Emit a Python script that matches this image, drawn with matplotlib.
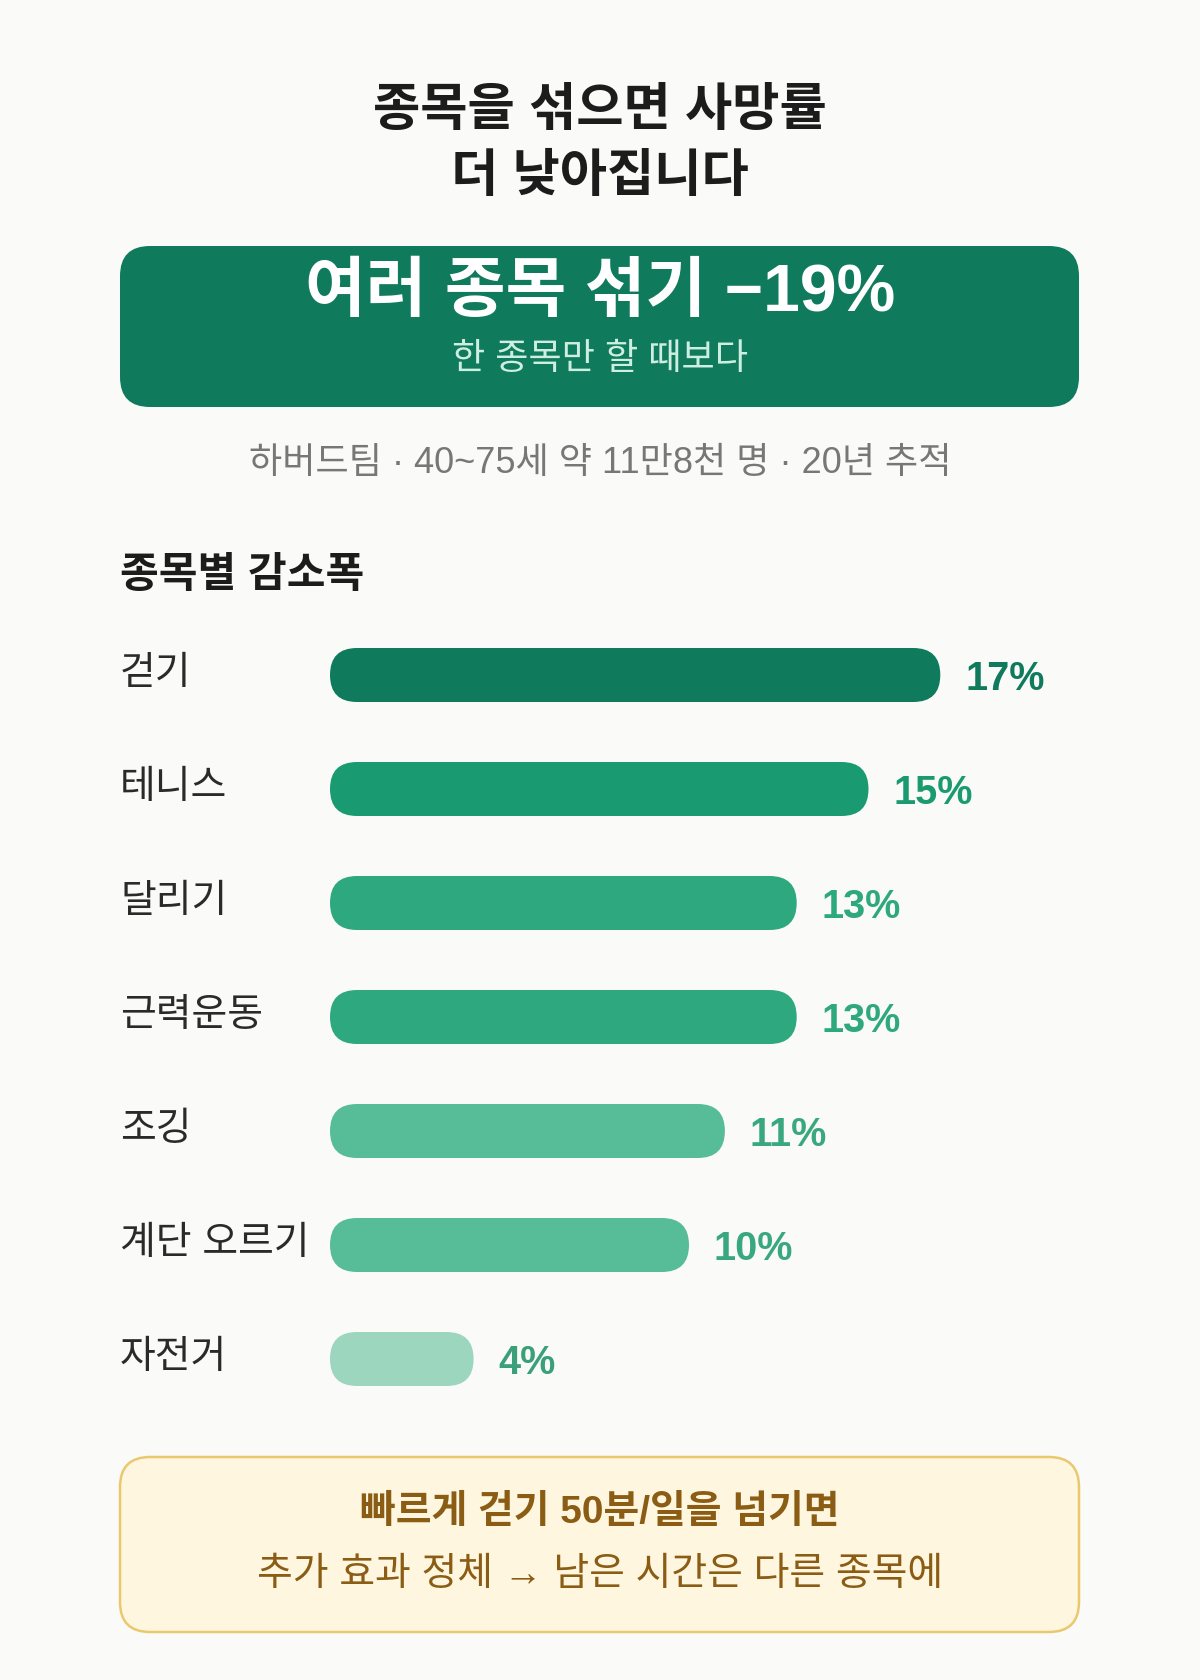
import matplotlib
matplotlib.use('Agg')
import matplotlib.pyplot as plt
from matplotlib.patches import FancyBboxPatch
from matplotlib.transforms import blended_transform_factory

# Data
sports = ['걷기', '테니스', '달리기', '근력운동', '조깅', '계단 오르기', '자전거']
reduction = [17, 15, 13, 13, 11, 10, 4]
bar_colors = ['#0f7b5c', '#1a9a70', '#2ea87f', '#2ea87f', '#57bd99', '#57bd99', '#9dd6bf']
label_colors = ['#0f7b5c', '#1a9a70', '#2ea87f', '#2ea87f', '#3aa87f', '#3aa87f', '#3aa07a']

title_lines = ['종목을 섞으면 사망률', '더 낮아집니다']
headline = '여러 종목 섞기 −19%'
headline_sub = '한 종목만 할 때보다'
source = '하버드팀 · 40~75세 약 11만8천 명 · 20년 추적'
section = '종목별 감소폭'
note_lines = ['빠르게 걷기 50분/일을 넘기면', '추가 효과 정체 → 남은 시간은 다른 종목에']

FONT = ['Liberation Sans', 'Noto Sans CJK KR', 'DejaVu Sans']
plt.rcParams['font.family'] = FONT
BG = '#fafaf8'

W, H = 1200, 1680
fig = plt.figure(figsize=(12, 16.8), dpi=100, facecolor=BG)

# Decoration layer, in pixel units
deco = fig.add_axes([0, 0, 1, 1])
deco.set_xlim(0, W)
deco.set_ylim(H, 0)
deco.axis('off')

deco.text(600, 112, title_lines[0], ha='center', va='center', fontsize=37,
          fontweight='bold', color='#1c1c1c')
deco.text(600, 177, title_lines[1], ha='center', va='center', fontsize=37,
          fontweight='bold', color='#1c1c1c')

deco.add_patch(FancyBboxPatch((120, 246), 959, 161,
                              boxstyle='round,pad=0,rounding_size=30',
                              fc='#0f7b5c', ec='none'))
deco.text(600, 294, headline, ha='center', va='center', fontsize=47.5,
          fontweight='bold', color='white')
deco.text(600, 360, headline_sub, ha='center', va='center', fontsize=26,
          color='#cdeee0')

deco.text(600, 464, source, ha='center', va='center', fontsize=26, color='#777777')

deco.text(120, 576, section, ha='left', va='center', fontsize=30.3,
          fontweight='bold', color='#1c1c1c')

deco.add_patch(FancyBboxPatch((120, 1457), 959, 175,
                              boxstyle='round,pad=0,rounding_size=30',
                              fc='#fff6e0', ec='#e9c86e', lw=1.8))
deco.text(600, 1513, note_lines[0], ha='center', va='center', fontsize=28,
          fontweight='bold', color='#8a5c14')
deco.text(600, 1575, note_lines[1], ha='center', va='center', fontsize=28,
          color='#8a5c14')

# Bar chart: 1% = ~35.9 px, rows 114 px apart
px_per_pct = 35.9
xmax = 20
ax_left, ax_w = 330, xmax * px_per_pct
row_h = 114
ax_top = 675 - row_h / 2
ax_h = row_h * len(sports)
ax = fig.add_axes([ax_left / W, 1 - (ax_top + ax_h) / H, ax_w / W, ax_h / H])
ax.set_xlim(0, xmax)
ax.set_ylim(len(sports) - 0.5, -0.5)
ax.axis('off')
ax.patch.set_alpha(0)

bar_h = 54 / row_h
rx = (bar_h / 2) * row_h / px_per_pct  # half-height in x units
for i, (v, c) in enumerate(zip(reduction, bar_colors)):
    ax.add_patch(FancyBboxPatch((0, i - bar_h / 2), v, bar_h,
                                boxstyle=f'round,pad=0,rounding_size={rx}',
                                mutation_aspect=(bar_h / 2) / rx,
                                fc=c, ec='none'))
    ax.text(v + 25 / px_per_pct, i + 0.035, f'{v}%', ha='left', va='center',
            fontsize=28.5, fontweight='bold', color=label_colors[i])

lab_tr = blended_transform_factory(fig.transFigure, ax.transData)
for i, name in enumerate(sports):
    ax.text(120 / W, i - 0.01, name, transform=lab_tr, ha='left', va='center',
            fontsize=28, color='#2a2a2a')

fig.savefig('out.png', dpi=100, facecolor=BG)
